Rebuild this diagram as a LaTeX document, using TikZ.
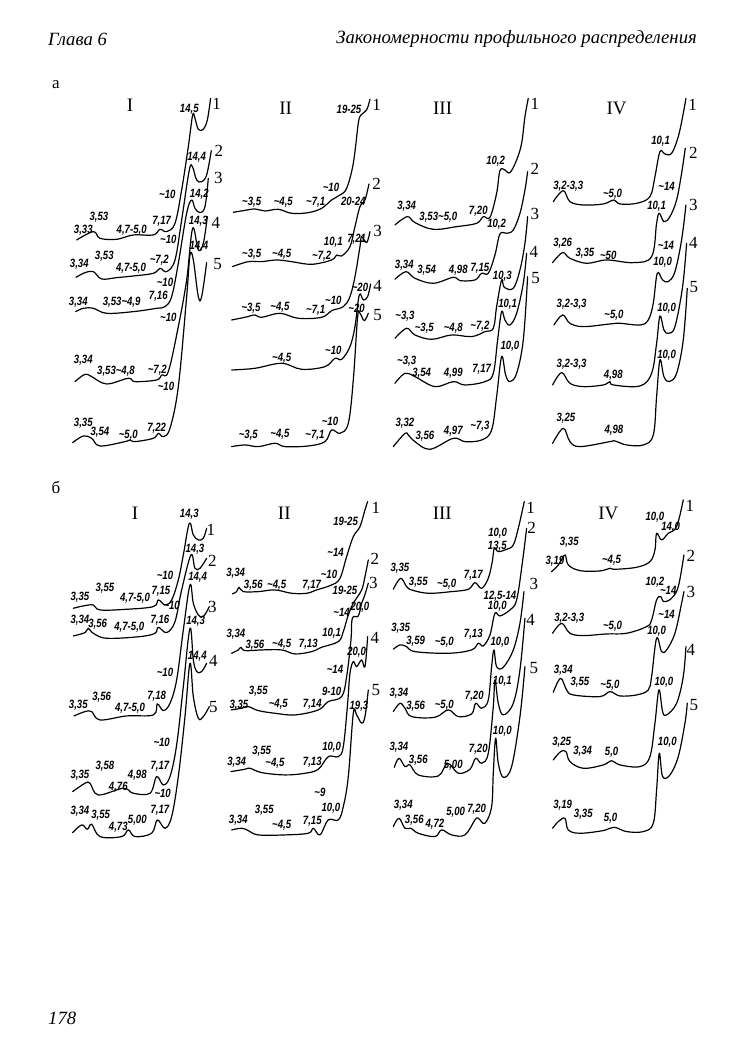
\documentclass[tikz,border=0pt]{standalone}
\usepackage{fontspec}
\setmainfont{Liberation Serif}
\newfontfamily\valfont[FakeStretch=.8]{Liberation Sans}
\newcommand{\tld}{\textasciitilde}
\tikzset{
	trace/.style={line width=1.2pt, line join=round, line cap=round},
	val/.style={inner sep=0pt, font=\valfont\bfseries\itshape\fontsize{12}{12}\selectfont},
	num/.style={inner sep=0pt, font=\fontsize{17}{17}\selectfont},
	roman/.style={inner sep=0pt, font=\fontsize{19}{19}\selectfont},
	head/.style={inner sep=0pt, font=\itshape\fontsize{18.7}{19}\selectfont},
	panel/.style={x=.3333pt, y=-.3333pt, shift={#1}}
}
\newcommand{\trace}[1]{\draw[trace] plot[smooth, tension=.6] coordinates {#1};}
\newcommand{\vals}[2]{\foreach \px/\py/\txt [count=\n] in {#2} \node[val] (#1-\n) at (\px,\py) {\txt};}
\newcommand{\nums}[2]{\foreach \px/\py [count=\n] in {#2} \node[num] (#1-n\n) at (\px,\py) {\n};}
\begin{document}
\begin{tikzpicture}[x=1pt, y=-1pt]
	\useasboundingbox (0,0) rectangle (734,1057);
	
	\node[head, anchor=west] (chapter) at (48,39) {Глава 6};
	\node[head, anchor=east] (title) at (697,39) {Закономерности профильного распределения};
	\node[head, anchor=west] (page) at (48,1018) {178};
	\node[num] (parta) at (56,85) {а};
	\node[num] (partb) at (56,487) {б};
	
	% a, I
	\begin{scope}[panel={(150,240)}]
		\node[roman] (aI) at (240,75) {I};
		\trace{(80,480) (130,455) (150,475) (200,478) (250,465) (310,465) (330,448) (350,455) (375,430) (395,330) (415,200) (428,105) (435,115) (445,148) (460,148) (472,120) (482,55)}
		\trace{(78,592) (105,578) (130,575) (155,597) (200,593) (250,588) (310,580) (330,565) (350,575) (375,540) (395,420) (418,270) (428,262) (440,300) (455,305) (470,285) (484,212)}
		\trace{(77,695) (100,685) (130,685) (170,700) (250,695) (320,685) (345,680) (365,650) (385,550) (410,400) (425,360) (435,385) (450,398) (465,380) (475,295)}
		\trace{(75,905) (105,883) (125,890) (170,912) (235,895) (255,905) (320,900) (335,885) (355,875) (385,740) (410,600) (428,445) (445,510) (460,490) (472,410)}
		\trace{(68,1088) (100,1068) (125,1075) (150,1098) (225,1085) (240,1080) (255,1085) (310,1075) (325,1060) (340,1070) (360,1045) (385,920) (410,650) (420,525) (430,540) (445,650) (455,650) (470,548)}
		\vals{aI}{418/88/{14,5}, 352/342/{\tld10}, 100/450/{3,33}, 147/412/{3,53}, 245/452/{4,7-5,0}, 335/425/{7,17},
			440/232/{14,4}, 448/343/{14,2}, 355/478/{\tld10}, 88/553/{3,34}, 163/530/{3,53}, 243/565/{4,7-5,0}, 328/540/{\tld7,2},
			445/425/{14,3}, 447/500/{14,4}, 345/607/{\tld10}, 85/668/{3,34}, 215/668/{3,53\tld4,9}, 325/650/{7,16}, 355/713/{\tld10},
			100/842/{3,34}, 198/873/{3,53\tld4,8}, 322/870/{\tld7,2}, 348/920/{\tld10},
			100/1030/{3,35}, 150/1058/{3,54}, 235/1065/{\tld5,0}, 320/1045/{7,22}}
		\nums{aI}{500/72, 507/213, 505/293, 498/428, 503/553}
	\end{scope}
	
	% a, II
	\begin{scope}[panel={(675,240)}]
		\node[roman] (aII) at (182,85) {II};
		\trace{(25,397) (55,392) (90,387) (120,393) (160,388) (200,400) (250,398) (290,385) (320,360) (345,345) (365,325) (385,250) (400,130) (408,105) (425,90) (435,58)}
		\trace{(22,560) (70,545) (110,545) (155,540) (200,545) (260,553) (320,540) (335,525) (350,528) (375,500) (390,440) (405,380) (420,360) (432,312)}
		\trace{(20,720) (60,712) (90,705) (110,712) (165,700) (220,715) (290,712) (320,692) (355,680) (375,650) (390,590) (405,500) (410,470) (425,488) (435,455)}
		\trace{(20,870) (90,865) (170,850) (230,868) (300,860) (330,835) (350,838) (375,800) (390,740) (403,645) (415,660) (428,650) (437,612)}
		\trace{(20,1100) (60,1095) (100,1100) (150,1090) (180,1100) (250,1098) (300,1085) (320,1050) (345,1060) (370,1030) (385,900) (398,710) (405,700) (418,722) (430,700)}
		\vals{aII}{372/88/{19-25}, 318/322/{\tld10}, 80/368/{\tld3,5}, 175/368/{\tld4,5}, 272/368/{\tld7,1}, 385/365/{20-24},
			395/478/{7,21}, 325/488/{10,1}, 290/530/{\tld7,2}, 80/522/{\tld3,5}, 170/522/{\tld4,5},
			405/622/{\tld20}, 325/660/{\tld10}, 78/685/{\tld3,5}, 165/683/{\tld4,5}, 272/690/{\tld7,1}, 395/685/{\tld20},
			170/835/{\tld4,5}, 325/812/{\tld10}, 315/1025/{\tld10}, 70/1065/{\tld3,5}, 165/1062/{\tld4,5}, 270/1067/{\tld7,1}}
		\nums{aII}{455/75, 455/312, 458/452, 458/617, 458/705}
	\end{scope}
	
	% a, III
	\begin{scope}[panel={(1155,240)}]
		\node[roman] (aIII) at (173,85) {III};
		\trace{(30,435) (67,410) (90,428) (145,448) (215,440) (275,430) (295,410) (315,412) (335,340) (345,272) (360,270) (375,278) (395,240) (410,190) (420,110) (430,55)}
		\trace{(30,598) (63,575) (90,595) (145,610) (205,592) (225,602) (270,600) (290,580) (310,580) (330,525) (345,462) (365,460) (385,450) (405,400) (420,330) (428,275)}
		\trace{(30,775) (65,745) (90,765) (140,778) (200,765) (260,770) (300,755) (325,745) (335,680) (350,600) (358,622) (385,625) (405,570) (420,490) (428,410)}
		\trace{(30,910) (60,880) (90,890) (150,920) (205,905) (240,915) (300,905) (325,880) (338,780) (350,695) (360,720) (375,735) (395,700) (415,610) (425,520)}
		\trace{(25,1100) (60,1060) (70,1065) (90,1085) (135,1108) (205,1075) (240,1085) (290,1080) (320,1050) (335,950) (350,830) (362,885) (375,905) (395,880) (415,780) (428,590)}
		\vals{aIII}{332/243/{10,2}, 65/380/{3,34}, 160/412/{3,53\tld5,0}, 280/393/{7,20}, 335/432/{10,2}, 58/555/{3,34}, 125/572/{3,54}, 220/572/{4,98}, 285/565/{7,15},
			352/590/{10,3}, 60/710/{\tld3,3}, 118/745/{\tld3,5}, 205/745/{\tld4,8}, 285/738/{\tld7,2}, 368/672/{10,1}, 65/845/{\tld3,3}, 110/880/{3,54}, 205/880/{4,99}, 290/868/{7,17},
			375/798/{10,0}, 60/1030/{3,32}, 120/1068/{3,56}, 205/1055/{4,97}, 285/1040/{\tld7,3}}
		\nums{aIII}{450/72, 450/268, 450/403, 447/516, 452/595}
	\end{scope}
	
	% a, IV
	\begin{scope}[panel={(1620,240)}]
		\node[roman] (aIV) at (230,85) {IV};
		\trace{(40,365) (70,332) (90,365) (130,375) (190,372) (222,360) (240,372) (290,370) (330,350) (345,290) (360,215) (375,222) (395,220) (415,170) (430,100) (438,55)}
		\trace{(38,548) (68,518) (90,535) (140,550) (200,540) (280,548) (335,530) (350,430) (358,400) (372,425) (390,410) (410,360) (425,280) (436,205)}
		\trace{(42,735) (68,705) (90,730) (130,740) (210,732) (240,730) (300,735) (325,720) (340,670) (352,580) (368,600) (385,605) (405,575) (425,480) (438,375)}
		\trace{(38,915) (65,878) (90,910) (130,920) (190,915) (210,905) (220,915) (300,918) (335,880) (350,790) (360,708) (372,750) (385,760) (405,740) (428,620) (440,490)}
		\trace{(38,1090) (70,1045) (90,1085) (120,1100) (210,1085) (225,1083) (260,1095) (310,1095) (340,1065) (350,950) (360,840) (372,890) (388,905) (410,880) (430,780) (442,625)}
		\vals{aIV}{85/318/{3,2-3,3}, 218/342/{\tld5,0}, 380/320/{\tld14}, 362/185/{10,1}, 350/378/{10,1}, 68/490/{3,26}, 135/520/{3,35}, 205/525/{\tld50}, 378/495/{\tld14},
			368/548/{10,0}, 95/672/{3,2-3,3}, 222/705/{\tld5,0}, 380/685/{10,0}, 95/852/{3,2-3,3}, 220/885/{4,98}, 380/825/{10,0}, 78/1015/{3,25}, 222/1052/{4,98}}
		\nums{aIV}{458/75, 460/218, 460/375, 460/490, 462/622}
	\end{scope}
	
	% b, I
	\begin{scope}[panel={(150,1470)}]
		\node[roman] (bI) at (255,70) {I};
		\trace{(70,355) (100,348) (130,345) (150,360) (230,358) (310,350) (325,330) (345,345) (365,330) (385,270) (400,195) (418,100) (430,135) (445,150) (460,145) (470,115)}
		\trace{(70,438) (105,428) (115,415) (130,430) (170,445) (270,440) (315,430) (325,412) (350,428) (375,395) (395,300) (423,195) (435,235) (450,235) (470,205)}
		\trace{(72,678) (105,665) (125,665) (150,690) (230,678) (310,675) (322,642) (340,662) (360,640) (380,570) (400,420) (420,285) (430,340) (445,375) (460,380) (478,350)}
		\trace{(68,905) (105,880) (120,880) (145,915) (220,895) (250,910) (300,910) (320,860) (340,885) (360,860) (380,765) (400,590) (420,415) (430,510) (440,545) (455,545) (470,520)}
		\trace{(68,1028) (95,1005) (112,1018) (125,1003) (150,1040) (215,1040) (235,1020) (255,1040) (305,1030) (322,990) (345,1015) (365,980) (385,860) (405,680) (420,520) (430,620) (445,685) (460,680) (478,650)}
		\vals{bI}{418/72/{14,3}, 345/255/{\tld10}, 90/322/{3,35}, 165/295/{3,55}, 255/325/{4,7-5,0}, 333/305/{7,15}, 435/178/{14,3}, 365/345/{\tld10}, 443/262/{14,4},
			90/390/{3,34}, 143/402/{3,56}, 238/412/{4,7-5,0}, 330/390/{7,16}, 437/393/{14,3}, 442/500/{14,4}, 345/548/{\tld10}, 85/645/{3,35}, 155/622/{3,56}, 240/655/{4,7-5,0}, 320/620/{7,18},
			335/757/{\tld10}, 90/855/{3,35}, 165/830/{3,58}, 205/893/{4,76}, 262/855/{4,98}, 330/830/{7,17}, 338/910/{\tld10}, 90/965/{3,34}, 152/975/{3,55}, 205/1012/{4,73}, 262/990/{5,00}, 330/962/{7,17}}
		\nums{bI}{483/120, 487/213, 487/350, 490/513, 490/650}
	\end{scope}
	
	% b, II
	\begin{scope}[panel={(675,1470)}]
		\node[roman] (bII) at (178,70) {II};
		\trace{(22,312) (35,305) (42,292) (55,305) (100,305) (150,300) (200,310) (245,310) (275,300) (320,285) (345,265) (365,200) (385,140) (405,110) (420,60) (428,35)}
		\trace{(20,490) (40,480) (48,472) (60,482) (110,480) (170,480) (210,492) (260,485) (290,472) (340,455) (355,425) (370,375) (385,340) (410,300) (420,260) (430,210)}
		\trace{(18,660) (50,655) (70,650) (100,662) (150,670) (210,675) (280,660) (310,635) (350,620) (365,560) (378,450) (382,385) (400,378) (410,340) (418,320) (430,280)}
		\trace{(18,845) (60,838) (75,835) (110,848) (180,855) (240,850) (280,838) (310,800) (340,800) (355,770) (368,640) (375,550) (385,515) (395,530) (410,510) (420,530) (428,440)}
		\trace{(20,1020) (50,1015) (70,1022) (100,1035) (180,1035) (250,1030) (265,1015) (285,1035) (310,990) (340,990) (355,950) (370,860) (385,670) (395,675) (410,700) (420,680) (430,600)}
		\vals{bII}{362/95/{19-25}, 332/188/{\tld14}, 312/252/{\tld10}, 32/250/{3,34}, 85/285/{3,56}, 155/285/{\tld4,5}, 260/285/{7,17}, 360/300/{19-25}, 350/368/{\tld14}, 405/353/{20,0},
			320/430/{10,1}, 33/433/{3,34}, 90/465/{3,56}, 170/462/{\tld4,5}, 250/462/{7,13}, 395/488/{20,0}, 330/538/{\tld14}, 320/603/{9-10}, 100/603/{3,55}, 42/645/{3,35}, 160/642/{\tld4,5}, 262/642/{7,14}, 402/648/{19,3},
			320/773/{10,0}, 110/785/{3,55}, 35/817/{3,34}, 150/820/{\tld4,5}, 262/817/{7,13}, 285/907/{\tld9}, 118/960/{3,55}, 318/955/{10,0}, 40/992/{3,34}, 170/1005/{\tld4,5}, 262/995/{7,15}}
		\nums{bII}{453/55, 450/207, 445/280, 450/443, 453/600}
	\end{scope}
	
	% b, III
	\begin{scope}[panel={(1155,1470)}]
		\node[roman] (bIII) at (172,70) {III};
		\trace{(25,298) (47,265) (65,290) (80,300) (130,310) (200,305) (250,298) (270,278) (290,295) (310,265) (322,215) (328,175) (340,185) (365,178) (385,165) (400,115) (418,35)}
		\trace{(25,478) (45,465) (65,470) (90,485) (190,490) (260,480) (280,460) (295,468) (315,435) (330,370) (345,378) (375,360) (395,330) (412,220) (425,115)}
		\trace{(25,665) (45,640) (60,655) (80,680) (150,682) (190,660) (220,680) (260,672) (272,640) (290,655) (310,630) (320,530) (327,480) (335,530) (355,532) (385,480) (405,400) (417,305)}
		\trace{(28,832) (42,805) (60,830) (75,825) (100,855) (160,858) (188,820) (220,850) (255,838) (272,805) (290,820) (310,790) (325,650) (330,570) (340,640) (355,675) (385,640) (405,540) (420,385)}
		\trace{(25,1010) (42,985) (60,1015) (78,1015) (100,1030) (150,1040) (170,1020) (200,1035) (240,1035) (270,990) (280,985) (300,1000) (320,950) (325,850) (332,745) (340,820) (355,862) (380,830) (405,680) (420,530)}
		\vals{bIII}{338/130/{10,0}, 337/168/{13,5}, 45/235/{3,35}, 100/278/{3,55}, 185/283/{\tld5,0}, 265/255/{7,17}, 345/318/{12,5-14}, 337/350/{10,0}, 47/415/{3,35}, 92/455/{3,59}, 178/458/{\tld5,0}, 265/432/{7,13},
			345/458/{10,0}, 42/610/{3,34}, 92/650/{3,56}, 178/645/{\tld5,0}, 268/620/{7,20}, 352/573/{10,1}, 42/773/{3,34}, 100/812/{3,56}, 205/825/{5,00}, 280/778/{7,20},
			352/725/{10,0}, 55/945/{3,34}, 88/992/{3,56}, 150/1003/{4,72}, 212/968/{5,00}, 275/958/{7,20}}
		\nums{bIII}{437/55, 440/115, 447/283, 437/390, 447/533}
	\end{scope}
	
	% b, IV
	\begin{scope}[panel={(1620,1470)}]
		\node[roman] (bIV) at (205,70) {IV};
		\trace{(35,245) (55,225) (75,195) (85,225) (120,242) (180,243) (210,235) (225,238) (290,232) (330,215) (345,180) (350,130) (365,150) (385,130) (410,110) (430,30)}
		\trace{(38,430) (65,400) (90,430) (130,437) (200,432) (260,430) (320,410) (335,390) (350,330) (362,320) (372,335) (395,325) (415,290) (432,195)}
		\trace{(40,607) (62,565) (80,600) (100,615) (180,620) (210,605) (240,618) (290,615) (325,600) (335,560) (350,445) (365,485) (380,480) (405,430) (425,340) (432,305)}
		\trace{(40,810) (62,785) (78,785) (90,815) (130,835) (190,825) (215,812) (240,825) (300,830) (330,800) (345,700) (357,600) (368,665) (380,675) (410,640) (430,560) (438,470)}
		\trace{(38,1015) (55,995) (75,985) (85,1020) (120,1030) (190,1022) (222,1012) (260,1025) (310,1025) (340,1000) (350,900) (358,790) (368,860) (390,855) (415,800) (435,700) (442,640)}
		\vals{bIV}{345/82/{10,0}, 392/112/{14,0}, 88/158/{3,35}, 45/215/{3,19}, 215/210/{\tld4,5}, 345/278/{10,2}, 385/300/{\tld14}, 88/385/{3,2-3,3}, 218/408/{\tld5,0}, 380/372/{\tld14},
			350/425/{10,0}, 70/542/{3,34}, 120/577/{3,55}, 210/585/{\tld5,0}, 372/578/{10,0}, 65/757/{3,25}, 128/783/{3,34}, 215/788/{5,0}, 382/758/{10,0}, 68/945/{3,19}, 130/972/{3,35}, 212/985/{5,0}}
		\nums{bIV}{450/48, 453/197, 453/305, 453/480, 462/645}
	\end{scope}
\end{tikzpicture}
\end{document}
